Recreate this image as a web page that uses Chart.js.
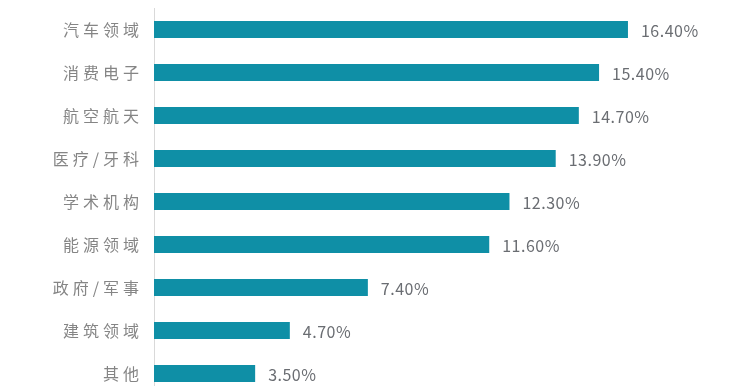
<!DOCTYPE html>
<html>
<head>
<meta charset="utf-8">
<script src="https://cdn.jsdelivr.net/npm/chart.js@4"></script>
<style>
  html, body { margin: 0; padding: 0; background: #fff; overflow: hidden; }
</style>
</head>
<body>
<canvas id="chartShare" width="739" height="395"></canvas>
<script>
// 各应用领域占比
const categories = ['汽车领域', '消费电子', '航空航天', '医疗/牙科', '学术机构', '能源领域', '政府/军事', '建筑领域', '其他'];
const shareValues = [16.4, 15.4, 14.7, 13.9, 12.3, 11.6, 7.4, 4.7, 3.5];
const valueLabels = ['16.40%', '15.40%', '14.70%', '13.90%', '12.30%', '11.60%', '7.40%', '4.70%', '3.50%'];

// 分类标签加字间距
const labelSpacing = {
    id: 'labelSpacing',
    beforeDraw(chart) {
        chart.ctx.letterSpacing = '4px';
    }
};

// 柱子右侧的数值标签
const barValueLabels = {
    id: 'barValueLabels',
    afterDatasetsDraw(chart) {
        const ctx = chart.ctx;
        const meta = chart.getDatasetMeta(0);
        ctx.save();
        ctx.letterSpacing = '0.5px';
        ctx.font = '16px "Noto Sans CJK SC", "Noto Sans", sans-serif';
        ctx.fillStyle = '#6a6d72';
        ctx.textAlign = 'left';
        ctx.textBaseline = 'middle';
        meta.data.forEach((bar, i) => {
            ctx.fillText(valueLabels[i], bar.x + 13, bar.y + 1);
        });
        ctx.restore();
    }
};

let chartShare = new Chart(document.getElementById('chartShare'), {
    type: 'bar',
    data: {
        labels: categories,
        datasets: [{
            data: shareValues,
            backgroundColor: '#0F8FA6',
            borderWidth: 0,
            categoryPercentage: 1,
            barPercentage: 0.4
        }]
    },
    options: {
        responsive: false,
        indexAxis: 'y',
        animation: false,
        layout: { padding: { top: 8, right: 7, bottom: 0, left: 0 } },
        plugins: {
            legend: { display: false },
            tooltip: { enabled: false }
        },
        scales: {
            x: {
                display: false,
                min: 0,
                max: 20
            },
            y: {
                grid: { display: false, drawTicks: false },
                border: { display: true, color: '#d9d9d9', width: 1 },
                ticks: {
                    color: '#858585',
                    padding: 11,
                    font: { size: 16, family: '"Noto Sans CJK SC", sans-serif' }
                },
                afterFit(axis) {
                    axis.width = 154;
                    axis.paddingTop = 0;
                    axis.paddingBottom = 0;
                }
            }
        }
    },
    plugins: [labelSpacing, barValueLabels]
});
</script>
</body>
</html>
